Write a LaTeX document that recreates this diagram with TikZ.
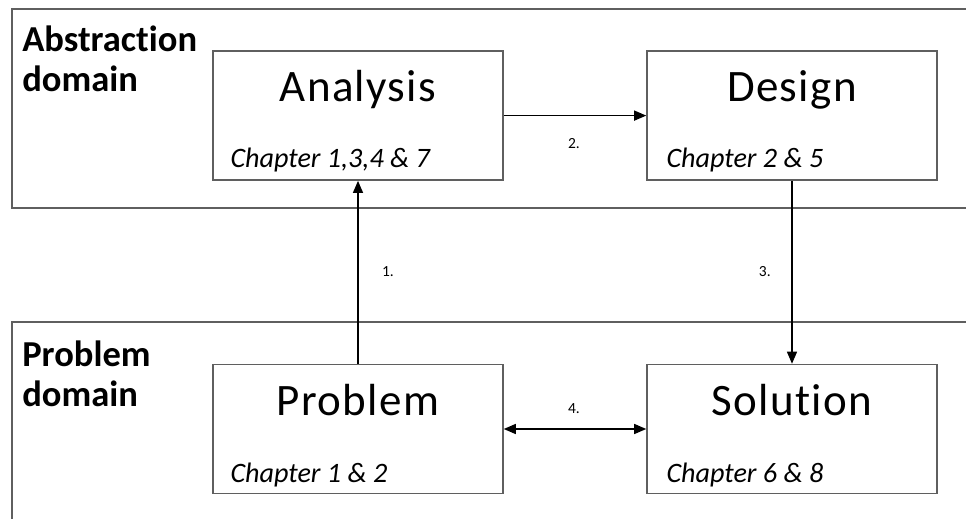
\documentclass[tikz,border=0pt]{standalone}
\usepackage{fontspec}
\setmainfont{Carlito}[Ligatures=NoCommon]
\newfontfamily\titlefont[LetterSpace=3,Ligatures=NoCommon]{Carlito}
\usetikzlibrary{arrows.meta}
\definecolor{framegray}{RGB}{95,95,95}
\begin{document}
\begin{tikzpicture}[
  domainframe/.style={draw=framegray, line width=1.3pt},
  stage/.style={rectangle, draw=framegray, line width=1.1pt, minimum width=7.25cm, minimum height=3.225cm, inner sep=0pt},
  stagetitle/.style={anchor=base, inner sep=0pt, font=\titlefont\fontsize{32}{38}\selectfont},
  chapter/.style={anchor=base west, inner sep=0pt, font=\fontsize{20}{24}\selectfont\itshape},
  domainlabel/.style={anchor=north west, inner sep=0pt, align=left, font=\fontsize{26}{28.5}\selectfont\bfseries},
  steplabel/.style={inner sep=0pt, font=\fontsize{11}{13}\selectfont},
  flow/.style={line width=0.9pt, -{Triangle[length=3mm,width=2.5mm]}},
  both/.style={line width=0.9pt, {Triangle[length=3mm,width=2.5mm]}-{Triangle[length=3mm,width=2.5mm]}}
]
\useasboundingbox (0,0) rectangle (24.15,12.95);
\clip (0,0) rectangle (24.15,12.95);
\draw[domainframe] (25,12.725) -- (0.3,12.725) -- (0.3,7.75) -- (25,7.75);
\draw[domainframe] (25,4.9) -- (0.3,4.9) -- (0.3,-1);
\node[domainlabel] (absL) at (0.55,12.3){Abstraction\\domain};
\node[domainlabel] (probL) at (0.55,4.44){Problem\\domain};

\node[stage] (ana) at (8.95,10.06){};
\node[stagetitle] (anaT) at ([yshift=-1.28cm]ana.north){Analysis};
\node[chapter] (anaC) at ([xshift=0.45cm,yshift=0.33cm]ana.south west){Chapter 1,3,4 \& 7};
\node[stage] (des) at (19.8,10.06){};
\node[stagetitle] (desT) at ([yshift=-1.28cm]des.north){Design};
\node[chapter] (desC) at ([xshift=0.5cm,yshift=0.33cm]des.south west){Chapter 2 \& 5};
\node[stage] (prob) at (8.95,2.225){};
\node[stagetitle] (probT) at ([yshift=-1.3cm]prob.north){Problem};
\node[chapter] (probC) at ([xshift=0.45cm,yshift=0.3cm]prob.south west){Chapter 1 \& 2};
\node[stage] (sol) at (19.8,2.225){};
\node[stagetitle] (solT) at ([yshift=-1.3cm]sol.north){Solution};
\node[chapter] (solC) at ([xshift=0.5cm,yshift=0.3cm]sol.south west){Chapter 6 \& 8};

\draw[flow](prob) -- (ana);
\draw[flow](ana) -- (des);
\draw[flow](des) -- (sol);
\draw[both](prob) -- (sol);
\node[steplabel] (s1) at (9.7,6.15){1.};
\node[steplabel] (s2) at (14.35,9.35){2.};
\node[steplabel] (s3) at (19.12,6.15){3.};
\node[steplabel] (s4) at (14.35,2.725){4.};

\end{tikzpicture}
\end{document}
